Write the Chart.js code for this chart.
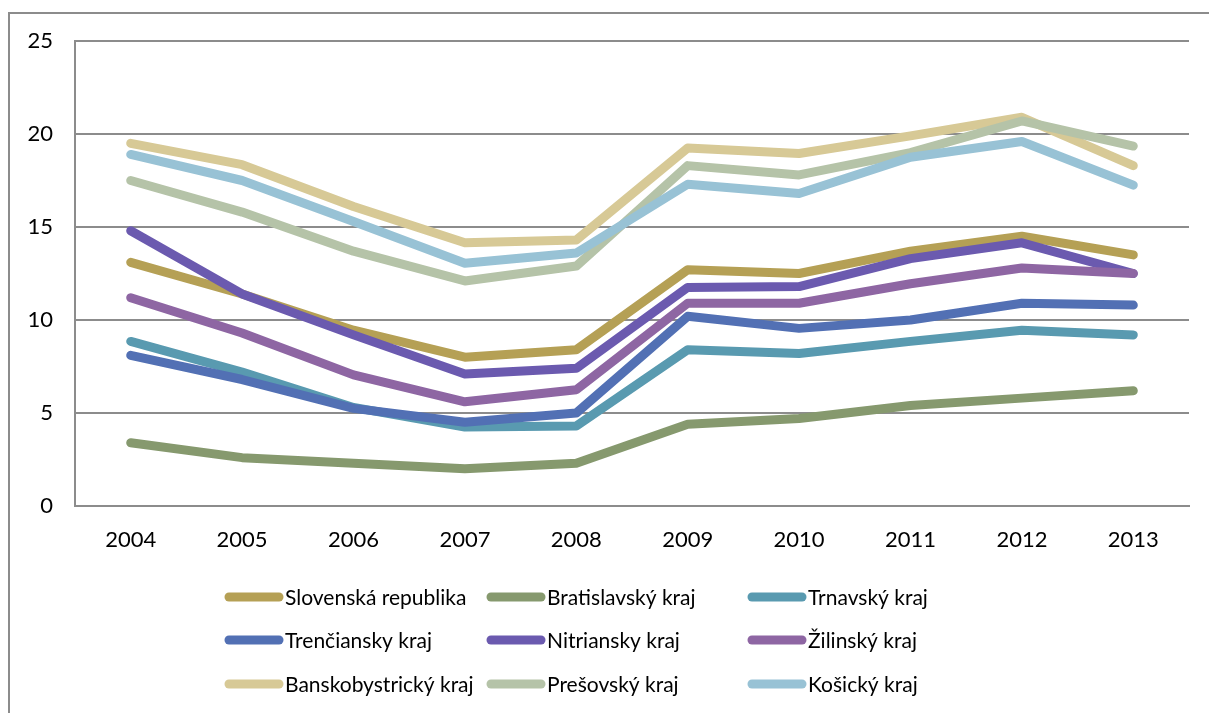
<!DOCTYPE html>
<html>
<head>
<meta charset="utf-8">
<script src="https://cdn.jsdelivr.net/npm/chart.js@4"></script>
<style>
    body { margin: 0; background: #fff; }
    .wrap { position: relative; width: 1209px; height: 713px; overflow: hidden; }
    .frame { position: absolute; left: 8px; top: 12px; width: 1400px; height: 900px; border: 2px solid #8c8c8c; }
    canvas { position: absolute; left: 0; top: 0; }
</style>
</head>
<body>
<div class="wrap">
    <div class="frame"></div>
    <canvas id="chart" width="1209" height="713"></canvas>
</div>
<script>
// chart data
const years = ['2004', '2005', '2006', '2007', '2008', '2009', '2010', '2011', '2012', '2013'];

const regionNames = [
    'Slovenská republika', 'Bratislavský kraj', 'Trnavský kraj',
    'Trenčiansky kraj', 'Nitriansky kraj', 'Žilinský kraj',
    'Banskobystrický kraj', 'Prešovský kraj', 'Košický kraj'
];

const slovensko = [13.1, 11.4, 9.45, 8.0, 8.4, 12.7, 12.5, 13.7, 14.5, 13.5];
const bratislava = [3.4, 2.6, 2.3, 2.0, 2.3, 4.4, 4.7, 5.4, 5.8, 6.2];
const trnava = [8.85, 7.2, 5.3, 4.25, 4.3, 8.4, 8.2, 8.85, 9.45, 9.2];
const trencin = [8.1, 6.8, 5.25, 4.5, 5.0, 10.2, 9.55, 10.0, 10.9, 10.8];
const nitra = [14.8, 11.4, 9.2, 7.1, 7.4, 11.75, 11.8, 13.3, 14.15, 12.5];
const zilina = [11.2, 9.3, 7.05, 5.6, 6.25, 10.9, 10.9, 11.95, 12.8, 12.5];
const banskaBystrica = [19.5, 18.35, 16.1, 14.15, 14.3, 19.25, 18.95, 19.9, 20.9, 18.3];
const presov = [17.5, 15.8, 13.7, 12.1, 12.9, 18.3, 17.8, 19.0, 20.7, 19.35];
const kosice = [18.9, 17.5, 15.3, 13.05, 13.6, 17.3, 16.8, 18.75, 19.6, 17.25];

const regionValues = [slovensko, bratislava, trnava, trencin, nitra, zilina, banskaBystrica, presov, kosice];

const regionColors = [
    '#b5a055', '#86996e', '#599ab0',
    '#5270b4', '#6b5aaf', '#8e66a3',
    '#d7c996', '#b5c3a8', '#98c2d5'
];

const yTicks = [0, 5, 10, 15, 20, 25];

const tickFont = { family: 'Lato, "Open Sans", sans-serif', size: 22 };
const legendFont = '21px Lato, "Open Sans", sans-serif';

// legend drawn on canvas in a 3 x 3 grid
const gridLegend = {
    id: 'gridLegend',
    afterDraw(chart) {
        const ctx = chart.ctx;
        const colX = [229, 491, 752];
        const rowY = [597, 640, 684];
        ctx.save();
        ctx.font = legendFont;
        ctx.textBaseline = 'middle';
        ctx.textAlign = 'left';
        chart.data.datasets.forEach((ds, i) => {
            const x = colX[i % 3];
            const y = rowY[Math.floor(i / 3)];
            ctx.strokeStyle = ds.borderColor;
            ctx.lineWidth = 9;
            ctx.lineCap = 'round';
            ctx.beginPath();
            ctx.moveTo(x, y);
            ctx.lineTo(x + 50, y);
            ctx.stroke();
            ctx.fillStyle = '#000';
            ctx.fillText(ds.label, x + 56, y + 1);
        });
        ctx.restore();
    }
};

function buildDatasets() {
    return regionNames.map((name, i) => ({
        label: name,
        data: regionValues[i],
        borderColor: regionColors[i],
        backgroundColor: regionColors[i],
        borderWidth: 9,
        borderCapStyle: 'round',
        borderJoinStyle: 'round',
        pointRadius: 0,
        tension: 0,
        order: regionNames.length - i
    }));
}

function createChart() {
    const ctx = document.getElementById('chart').getContext('2d');
    new Chart(ctx, {
        type: 'line',
        data: {
            labels: years,
            datasets: buildDatasets()
        },
        options: {
            responsive: false,
            animation: false,
            layout: {
                padding: { left: 0, top: 41, right: 20, bottom: 0 }
            },
            plugins: {
                legend: { display: false },
                tooltip: { enabled: false }
            },
            scales: {
                x: {
                    offset: true,
                    grid: { display: false, drawTicks: false },
                    border: { display: true, color: '#8c8c8c', width: 2 },
                    ticks: { color: '#000', font: tickFont, padding: 21, maxRotation: 0 },
                    afterFit(scale) { scale.height = 207; }
                },
                y: {
                    min: 0,
                    max: 25,
                    afterBuildTicks(scale) { scale.ticks = yTicks.map(v => ({ value: v })); },
                    grid: { color: '#8c8c8c', lineWidth: 2, drawTicks: false },
                    border: { display: true, color: '#8c8c8c', width: 2 },
                    ticks: { color: '#000', font: tickFont, padding: 22 },
                    afterFit(scale) { scale.width = 75; }
                }
            }
        },
        plugins: [gridLegend]
    });
}

document.addEventListener('DOMContentLoaded', createChart);
</script>
</body>
</html>
